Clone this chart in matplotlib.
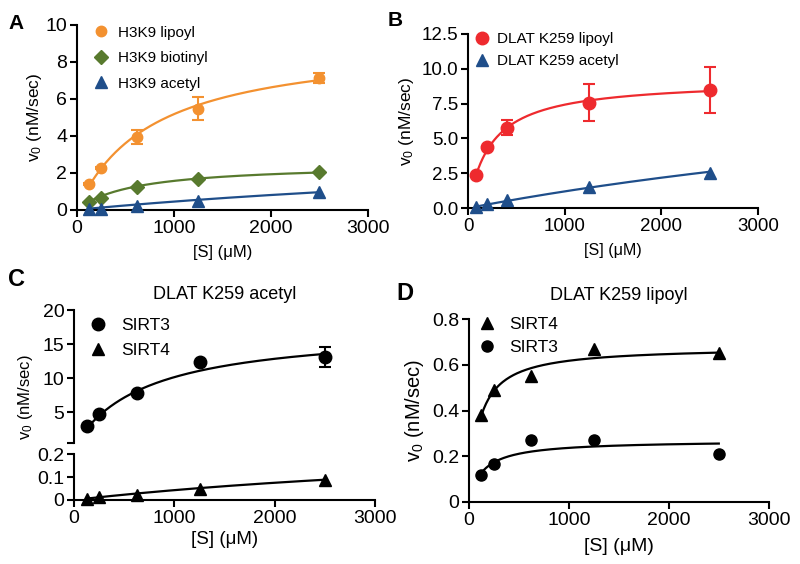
import numpy as np
import matplotlib
matplotlib.use("Agg")
from matplotlib import pyplot as plt

plt.rcParams['font.family'] = ['Liberation Sans', 'DejaVu Sans']
plt.rcParams['mathtext.fontset'] = 'custom'
plt.rcParams['mathtext.rm'] = 'Liberation Sans'
plt.rcParams['mathtext.it'] = 'Liberation Sans:italic'
plt.rcParams['axes.linewidth'] = 1.5

# panel A: H3K9 peptides
conc_a = [125, 250, 625, 1250, 2500]
lipoyl_a = [1.38, 2.28, 3.92, 5.47, 7.12]
lipoyl_a_err = [0.05, 0.05, 0.38, 0.62, 0.28]
biotinyl_a = [0.43, 0.66, 1.24, 1.69, 2.05]
acetyl_a = [0.02, 0.04, 0.18, 0.45, 0.97]
# fitted Michaelis-Menten parameters (Vmax, Km)
fit_lipoyl_a = (9.2, 780)
fit_biotinyl_a = (2.5, 600)
fit_acetyl_a = (4.0, 8000)

# panel B: DLAT K259
conc_b = [80, 200, 400, 1250, 2500]
lipoyl_b = [2.36, 4.35, 5.77, 7.57, 8.44]
lipoyl_b_err = [0.1, 0.1, 0.55, 1.35, 1.65]
acetyl_b = [0.08, 0.33, 0.55, 1.5, 2.55]
fit_lipoyl_b = (9.2, 240)
fit_acetyl_b = (12.0, 9000)

# panel C: DLAT K259 acetyl
conc_c = [125, 250, 625, 1250, 2500]
sirt3_c = [3.05, 4.76, 7.88, 12.33, 13.1]
sirt3_c_err = [0.1, 0.1, 0.1, 0.1, 1.5]
sirt4_c = [0.005, 0.015, 0.022, 0.048, 0.086]
fit_sirt3_c = (17.5, 720)
fit_sirt4_c = (0.3, 6000)

# panel D: DLAT K259 lipoyl
conc_d = [125, 250, 625, 1250, 2500]
sirt4_d = [0.38, 0.49, 0.552, 0.668, 0.652]
sirt3_d = [0.118, 0.168, 0.27, 0.27, 0.208]
fit_sirt4_d = (0.68, 100)
fit_sirt3_d = (0.27, 140)

orange = '#F39130'
green = '#587A2E'
blue = '#1F4E8A'
red = '#EE2A2E'

def mm(s, p):
    vmax, km = p
    return vmax * s / (km + s)

def style(ax, fs=13):
    for side in ['top', 'right']:
        ax.spines[side].set_visible(False)
    ax.tick_params(direction='out', length=5, width=1.5, labelsize=fs, pad=2)

def series(ax, x, y, fit, color, marker, ms, label, err=None):
    xs = np.linspace(x[0], x[-1], 200)
    ax.plot(xs, mm(xs, fit), color=color, lw=1.6)
    if err is not None:
        ax.errorbar(x, y, yerr=err, fmt='none', ecolor=color, elinewidth=1.5,
                    capsize=4, capthick=1.5, clip_on=False)
    ax.plot(x, y, ls='none', marker=marker, ms=ms, color=color, label=label,
            clip_on=False, zorder=5)

fig = plt.figure(figsize=(8, 5.64), dpi=100)

# A
ax = fig.add_axes([0.096, 0.628, 0.364, 0.328])
series(ax, conc_a, lipoyl_a, fit_lipoyl_a, orange, 'o', 7.5, 'H3K9 lipoyl', lipoyl_a_err)
series(ax, conc_a, biotinyl_a, fit_biotinyl_a, green, 'D', 7, 'H3K9 biotinyl')
series(ax, conc_a, acetyl_a, fit_acetyl_a, blue, '^', 8, 'H3K9 acetyl')
ax.set_xlim(0, 3000)
ax.set_ylim(0, 10)
ax.set_xticks([0, 1000, 2000, 3000])
ax.set_yticks([0, 2, 4, 6, 8, 10])
style(ax, 14)
ax.set_xlabel('[S] (μM)', fontsize=12, labelpad=6)
ax.set_ylabel(r'v$_{\mathrm{0}}$ (nM/sec)', fontsize=12.5, labelpad=1)
ax.legend(loc='upper left', bbox_to_anchor=(0.01, 1.07), frameon=False,
          fontsize=11, handlelength=1.0, handletextpad=0.6, labelspacing=0.75)
fig.text(0.01, 0.975, 'A', fontsize=15, fontweight='bold', va='top')

# B
ax = fig.add_axes([0.585, 0.631, 0.3625, 0.309])
series(ax, conc_b, lipoyl_b, fit_lipoyl_b, red, 'o', 9, 'DLAT K259 lipoyl', lipoyl_b_err)
series(ax, conc_b, acetyl_b, fit_acetyl_b, blue, '^', 8.5, 'DLAT K259 acetyl')
ax.set_xlim(0, 3000)
ax.set_ylim(0, 12.5)
ax.set_xticks([0, 1000, 2000, 3000])
ax.set_yticks([0, 2.5, 5, 7.5, 10, 12.5])
ax.set_yticklabels(['0.0', '2.5', '5.0', '7.5', '10.0', '12.5'])
style(ax, 13.5)
ax.set_xlabel('[S] (μM)', fontsize=11.5, labelpad=6)
ax.set_ylabel(r'v$_{\mathrm{0}}$ (nM/sec)', fontsize=12.5)
ax.legend(loc='upper left', bbox_to_anchor=(-0.025, 1.09), frameon=False,
          fontsize=11, handlelength=1.0, handletextpad=0.5, labelspacing=0.55)
fig.text(0.485, 0.98, 'B', fontsize=15, fontweight='bold', va='top')

# C (broken y axis)
axt = fig.add_axes([0.0925, 0.2145, 0.3765, 0.2355])
axb = fig.add_axes([0.0925, 0.1135, 0.3765, 0.0815])
xs = np.linspace(conc_c[0], conc_c[-1], 200)
axt.plot(xs, mm(xs, fit_sirt3_c), color='k', lw=1.6)
axt.errorbar(conc_c, sirt3_c, yerr=sirt3_c_err, fmt='none', ecolor='k',
             elinewidth=1.5, capsize=4, capthick=1.5)
axt.plot(conc_c, sirt3_c, ls='none', marker='o', ms=9, color='k', label='SIRT3', zorder=5)
axt.plot([], [], ls='none', marker='^', ms=9, color='k', label='SIRT4')
axb.plot(xs, mm(xs, fit_sirt4_c), color='k', lw=1.6)
axb.plot(conc_c, sirt4_c, ls='none', marker='^', ms=9, color='k', clip_on=False, zorder=5)
axt.set_xlim(0, 3000)
axb.set_xlim(0, 3000)
axt.set_ylim(0.5, 20)
axt.set_yticks([0.5, 5, 10, 15, 20])
axt.set_yticklabels(['', '5', '10', '15', '20'])
axb.set_ylim(0, 0.2)
axb.set_yticks([0, 0.1, 0.2])
axb.set_yticklabels(['0', '0.1', '0.2'])
axb.set_xticks([0, 1000, 2000, 3000])
style(axt, 14)
style(axb, 14)
axt.spines['bottom'].set_visible(False)
axt.set_xticks([])
axt.set_title('DLAT K259 acetyl', fontsize=13, pad=8)
axb.set_xlabel('[S] (μM)', fontsize=13.5, labelpad=3)
fig.text(0.032, 0.22, r'v$_{\mathrm{0}}$ (nM/sec)', rotation=90, fontsize=12,
         ha='center', va='bottom')
axt.legend(loc='upper left', bbox_to_anchor=(0.0, 1.06), frameon=False,
           fontsize=12.5, handlelength=1.0, handletextpad=0.8, labelspacing=0.55)
fig.text(0.01, 0.525, 'C', fontsize=17, fontweight='bold', va='top')

# D
ax = fig.add_axes([0.586, 0.110, 0.375, 0.324])
series(ax, conc_d, sirt4_d, fit_sirt4_d, 'k', '^', 9, 'SIRT4')
series(ax, conc_d, sirt3_d, fit_sirt3_d, 'k', 'o', 8, 'SIRT3')
ax.set_xlim(0, 3000)
ax.set_ylim(0, 0.8)
ax.set_xticks([0, 1000, 2000, 3000])
ax.set_yticks([0, 0.2, 0.4, 0.6, 0.8])
ax.set_yticklabels(['0', '0.2', '0.4', '0.6', '0.8'])
style(ax, 14)
ax.set_title('DLAT K259 lipoyl', fontsize=13, pad=14)
ax.set_xlabel('[S] (μM)', fontsize=14, labelpad=7)
ax.set_ylabel(r'v$_{\mathrm{0}}$ (nM/sec)', fontsize=14.5)
ax.legend(loc='upper left', bbox_to_anchor=(-0.02, 1.1), frameon=False,
          fontsize=12.5, handlelength=1.0, handletextpad=0.8, labelspacing=0.45)
fig.text(0.495, 0.50, 'D', fontsize=17, fontweight='bold', va='top')

fig.savefig('out.png', dpi=100)
